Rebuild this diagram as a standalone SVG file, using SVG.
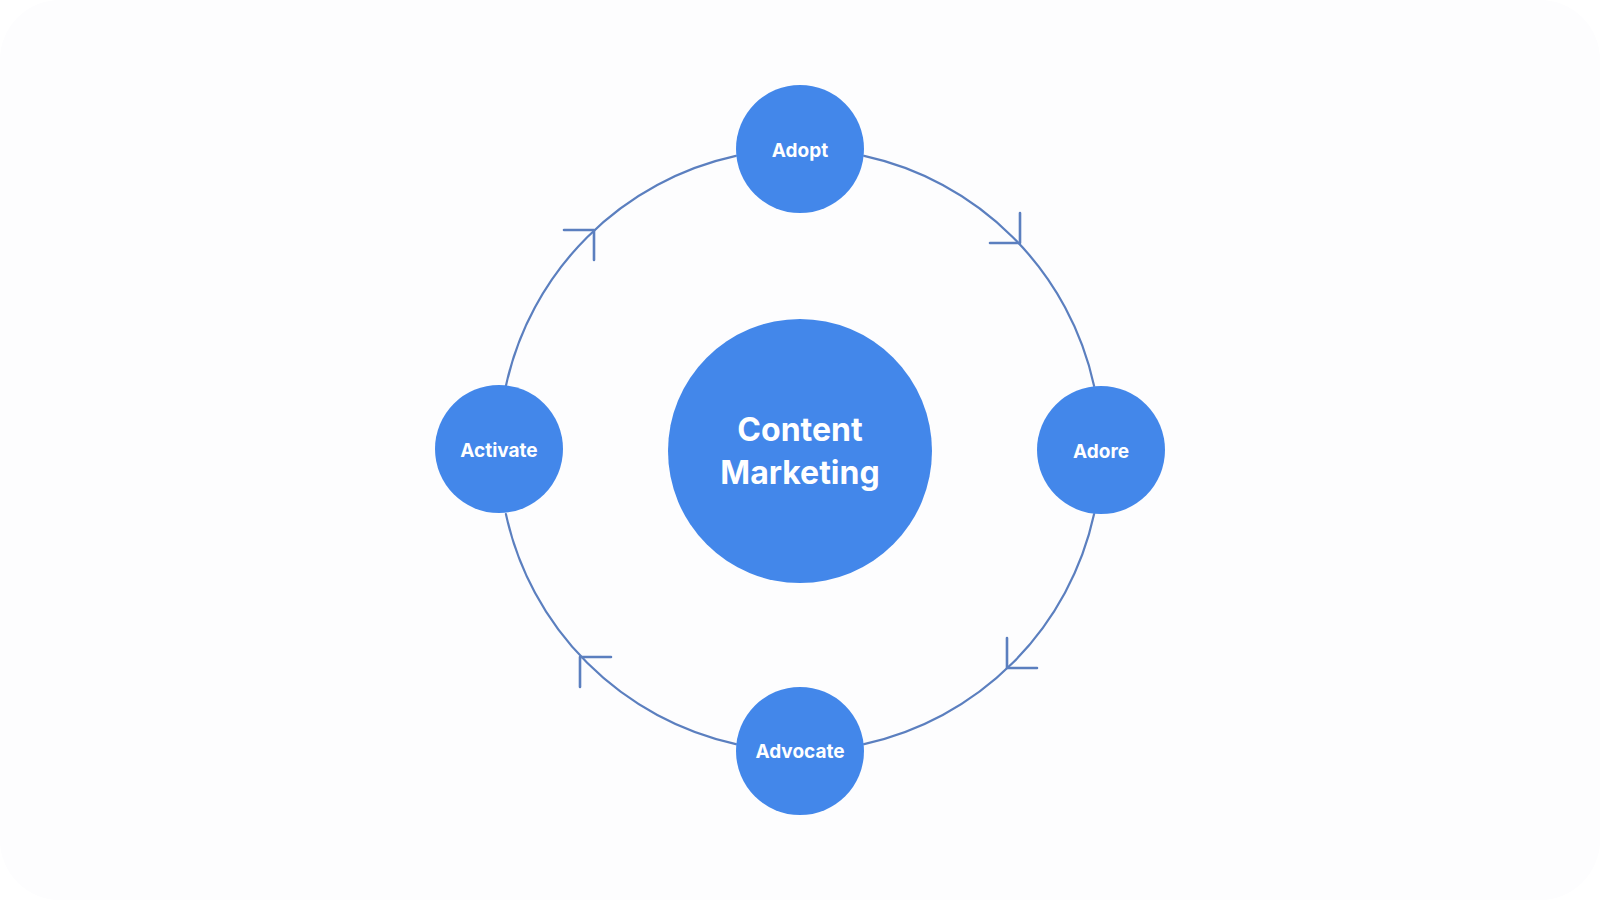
<svg xmlns="http://www.w3.org/2000/svg" width="1600" height="900" viewBox="0 0 1600 900">
  <style>
    .ring { fill: none; stroke: #5b7fbf; stroke-width: 2.2; stroke-linecap: round; }
    .head { fill: none; stroke: #5b7fbf; stroke-width: 2.6; stroke-linecap: round; stroke-linejoin: round; }
    .node { fill: #4387ea; }
    .lbl { fill: #ffffff; font-family: Inter, "Liberation Sans", sans-serif; font-weight: 700; text-anchor: middle; dominant-baseline: central; }
    .small { font-size: 19px; }
    .big { font-size: 32px; }
  </style>
  <rect x="0" y="0" width="1600" height="900" fill="#ffffff"/>
  <rect x="0" y="0" width="1600" height="900" rx="60" ry="60" fill="#fdfdfe"/>
  <g id="connectors">
    <path class="ring" d="M864.1,155.9 A301,301 0 0 1 1094.1,385.9"/>
    <path class="ring" d="M1094.1,514.1 A301,301 0 0 1 864.1,744.1"/>
    <path class="ring" d="M735.9,744.1 A301,301 0 0 1 505.9,514.1"/>
    <path class="ring" d="M505.9,385.9 A301,301 0 0 1 735.9,155.9"/>
    <path class="head" d="M1020,213 L1020,243 L990,243"/>
    <path class="head" d="M1007,638 L1007,668 L1037,668"/>
    <path class="head" d="M611,657 L580,657 L580,687"/>
    <path class="head" d="M564,230 L594,230 L594,260"/>
  </g>
  <g id="center">
    <circle class="node" cx="800" cy="451" r="132"/>
    <text class="lbl big" x="800" y="429">Content</text>
    <text class="lbl big" x="800" y="472">Marketing</text>
  </g>
  <g id="adopt">
    <circle class="node" cx="800" cy="149" r="64"/>
    <text class="lbl small" x="800" y="150">Adopt</text>
  </g>
  <g id="adore">
    <circle class="node" cx="1101" cy="450" r="64"/>
    <text class="lbl small" x="1101" y="451">Adore</text>
  </g>
  <g id="advocate">
    <circle class="node" cx="800" cy="751" r="64"/>
    <text class="lbl small" x="800" y="751">Advocate</text>
  </g>
  <g id="activate">
    <circle class="node" cx="499" cy="449" r="64"/>
    <text class="lbl small" x="499" y="450">Activate</text>
  </g>
</svg>
